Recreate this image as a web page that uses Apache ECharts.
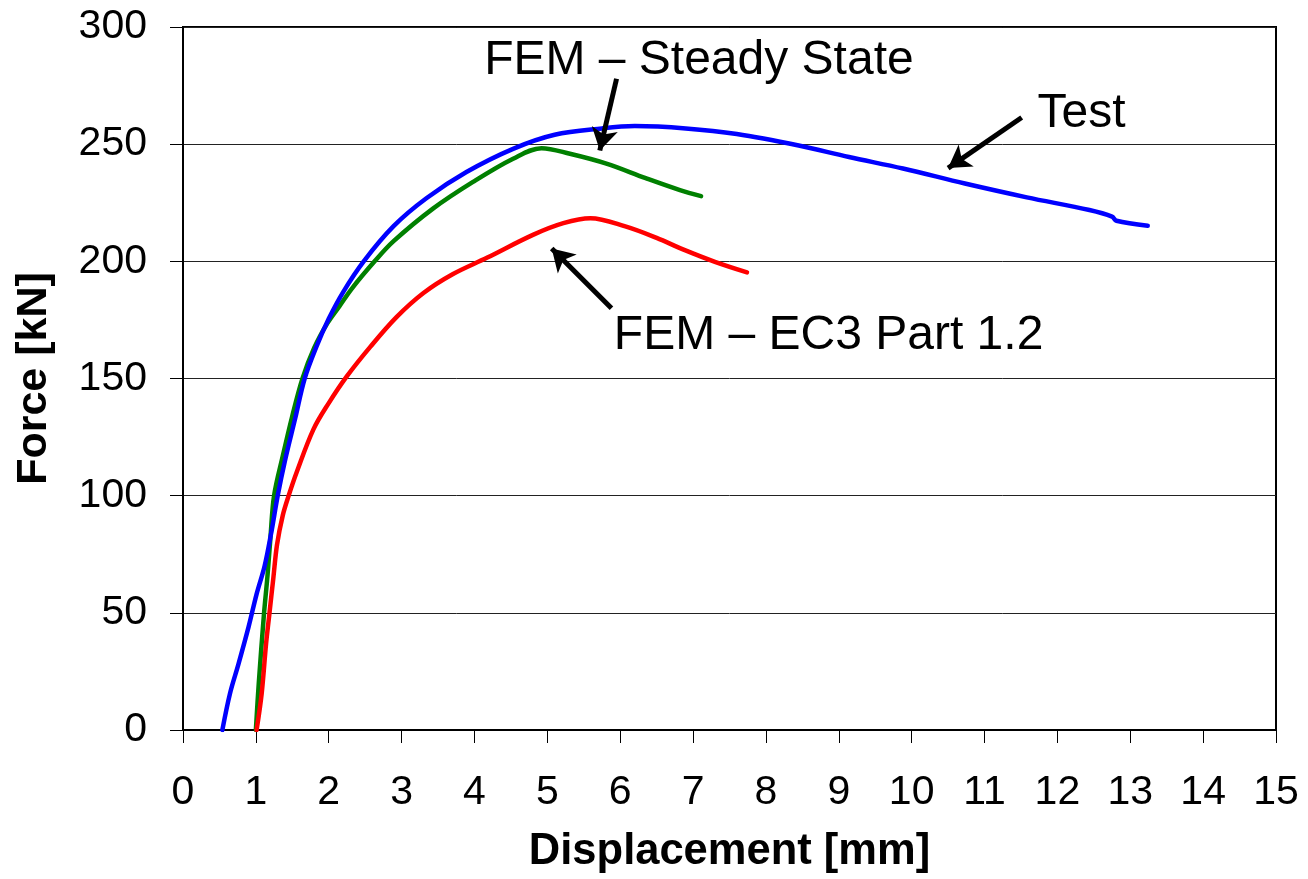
<!DOCTYPE html>
<html>
<head>
<meta charset="utf-8">
<script src="https://cdn.jsdelivr.net/npm/echarts@6/dist/echarts.min.js"></script>
<style>
  html, body { margin: 0; padding: 0; background: #fff; overflow: hidden; }
  #chart { width: 1308px; height: 879px; }
</style>
</head>
<body>
<div id="chart"></div>
<script>
// Force–displacement curves: [displacement mm, force kN]
const testCurve = [
  [0.54, 0], [0.645, 15.6], [0.76, 28], [0.90, 44], [1.01, 58], [1.12, 70],
  [1.21, 84], [1.30, 100], [1.40, 115], [1.54, 133], [1.67, 150], [1.83, 163.5],
  [2.0, 175.5], [2.2, 187], [2.48, 200], [2.89, 215], [3.34, 226.9], [3.89, 238.1],
  [4.53, 248], [5.1, 254], [5.75, 256.7], [6.2, 257.7], [6.9, 256.7], [7.6, 254.3],
  [8.45, 249.4], [9.14, 244.5], [9.88, 239.6], [10.73, 233.2], [11.58, 227.3],
  [12.44, 221.9], [12.75, 219.1], [12.81, 217.3], [13.24, 215.2]
];
const steadyStateCurve = [
  [1.0, 0], [1.04, 20], [1.11, 49], [1.16, 66], [1.20, 82], [1.25, 100], [1.37, 117],
  [1.50, 134], [1.64, 150], [1.80, 163], [1.98, 173.5], [2.15, 181], [2.32, 188.5], [2.63, 200],
  [2.89, 208.6], [3.435, 222.6], [3.98, 233.9], [4.53, 243.8], [4.92, 248.3], [5.31, 245.9],
  [5.81, 241.7], [6.35, 235.5], [6.82, 230.4], [7.11, 227.8]
];
const ec3Curve = [
  [1.01, 0], [1.08, 15.6], [1.14, 36.8], [1.185, 49.4], [1.24, 64.9], [1.29, 79],
  [1.37, 91.7], [1.45, 100], [1.56, 110], [1.79, 128.3], [2.0, 139.5], [2.25, 151], [2.57, 163.5],
  [2.93, 176.2], [3.3, 186.5], [3.7, 194.5], [4.17, 201.5], [4.81, 211.4], [5.22, 216.3],
  [5.59, 218.4], [6.07, 214.9], [6.5, 210], [6.87, 205], [7.3, 199.8], [7.74, 195.3]
];

// Axis ticks
const xTicks = [0, 1, 2, 3, 4, 5, 6, 7, 8, 9, 10, 11, 12, 13, 14, 15];
const yTicks = [0, 50, 100, 150, 200, 250, 300];

// Callout texts and their arrows (data coordinates)
const calloutTexts = [
  { name: 'FEM – Steady State', value: [7.08, 285.5] },
  { name: 'Test', value: [12.33, 262.8] },
  { name: 'FEM – EC3 Part 1.2', value: [8.86, 168.2] }
];
const calloutArrows = [
  [[5.95, 277.9], [5.72, 247.3]],
  [[11.51, 261.4], [10.50, 239.8]],
  [[5.88, 180.0], [5.06, 205.5]]
];

const FONT = "'Liberation Sans', Arial, Helvetica, sans-serif";
const chart = echarts.init(document.getElementById('chart'), null, { renderer: 'canvas' });

const curveStyle = color => ({ color: color, width: 4.5, cap: 'round', join: 'round' });

chart.setOption({
  animation: false,
  backgroundColor: '#ffffff',
  grid: {
    left: 183, right: 32, top: 27, bottom: 142,
    show: true, borderColor: '#000', borderWidth: 2, backgroundColor: 'transparent'
  },
  xAxis: {
    type: 'value',
    min: xTicks[0], max: xTicks[xTicks.length - 1], interval: 1,
    name: 'Displacement [mm]',
    nameLocation: 'middle', nameGap: 100,
    nameTextStyle: { fontFamily: FONT, fontSize: 43.5, fontWeight: 'bold', color: '#000' },
    axisLine: { show: true, onZero: false, lineStyle: { color: '#000', width: 2 } },
    axisTick: { show: true, length: 13, lineStyle: { color: '#000', width: 1 } },
    axisLabel: { fontFamily: FONT, fontSize: 41, color: '#000', margin: 42 },
    splitLine: { show: false }
  },
  yAxis: {
    type: 'value',
    min: yTicks[0], max: yTicks[yTicks.length - 1], interval: 50,
    name: 'Force [kN]',
    nameLocation: 'middle', nameGap: 127,
    nameTextStyle: { fontFamily: FONT, fontSize: 43, fontWeight: 'bold', color: '#000' },
    axisLine: { show: true, onZero: false, lineStyle: { color: '#000', width: 2 } },
    axisTick: { show: true, length: 13, lineStyle: { color: '#000', width: 1 } },
    axisLabel: { fontFamily: FONT, fontSize: 41, color: '#000', margin: 36 },
    splitLine: { show: true, lineStyle: { color: '#222', width: 1 } }
  },
  series: [
    {
      name: 'Test', type: 'line', data: testCurve, showSymbol: false, smooth: 0.35,
      lineStyle: curveStyle('#0000ff'), z: 3
    },
    {
      name: 'FEM – Steady State', type: 'line', data: steadyStateCurve, showSymbol: false, smooth: 0.35,
      lineStyle: curveStyle('#008000'), z: 2
    },
    {
      name: 'FEM – EC3 Part 1.2', type: 'line', data: ec3Curve, showSymbol: false, smooth: 0.35,
      lineStyle: curveStyle('#ff0000'), z: 2
    },
    {
      name: 'callouts', type: 'scatter', data: calloutTexts, symbolSize: 0, silent: true, z: 5,
      itemStyle: { opacity: 1 },
      label: {
        show: true, position: 'inside', formatter: p => p.name, opacity: 1,
        fontFamily: FONT, fontSize: 48, color: '#000'
      },
      markLine: {
        silent: true, animation: false,
        symbol: ['none', 'arrow'], symbolSize: [20, 22],
        lineStyle: { color: '#000', width: 5, type: 'solid', opacity: 1 },
        label: { show: false },
        data: calloutArrows.map(a => [{ coord: a[0] }, { coord: a[1] }])
      }
    }
  ]
});
</script>
</body>
</html>
